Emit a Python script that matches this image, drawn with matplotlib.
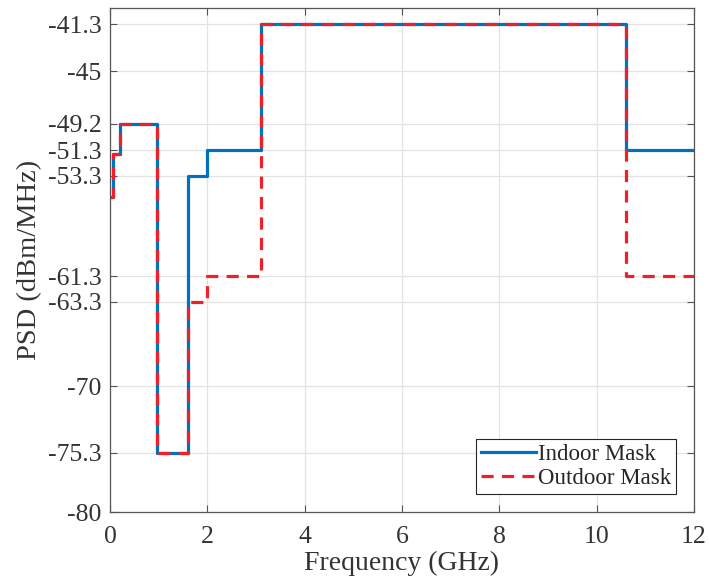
import matplotlib.pyplot as plt

## FCC emission masks (GHz, dBm/MHz), drawn as post-steps
freq_in = [0, 0.06, 0.2, 0.96, 1.61, 1.99, 3.1, 10.6, 12]
psd_in = [-55.0, -51.6, -49.2, -75.3, -53.3, -51.3, -41.3, -51.3, -51.3]

freq_out = [0, 0.06, 0.2, 0.96, 1.61, 1.99, 3.1, 10.6, 12]
psd_out = [-55.0, -51.6, -49.2, -75.3, -63.3, -61.3, -41.3, -61.3, -61.3]

yticks = [-80, -75.3, -70, -63.3, -61.3, -53.3, -51.3, -49.2, -45, -41.3]
ytick_labels = ["-80", "-75.3", "-70", "-63.3", "-61.3", "-53.3", "-51.3", "-49.2", "-45", "-41.3"]
xticks = [0, 2, 4, 6, 8, 10, 12]

plt.rcParams['font.family'] = ['Liberation Serif', 'DejaVu Serif']

fig = plt.figure(figsize=(7.09, 5.88), dpi=100)
ax = fig.add_axes([110/709, 76/588, 584/709, 504/588])

ax.step(freq_in, psd_in, where='post', color='#0072BD', lw=2.3, label='Indoor Mask')
ax.step(freq_out, psd_out, where='post', color='#F0202A', lw=2.3,
        dashes=(3.8, 2.6), label='Outdoor Mask')

ax.set_xlim(0, 12)
ax.set_ylim(-80, -40)
ax.set_xticks(xticks)
ax.set_yticks(yticks)
ax.set_yticklabels(ytick_labels)
ax.grid(True, color='#E3E3E3', lw=0.9)
ax.set_axisbelow(True)

ax.tick_params(direction='in', length=5, color='#555555', labelsize=18.5,
               labelcolor='#333333')
ax.tick_params(axis='y', pad=6)
ax.tick_params(axis='x', pad=10)
ax.tick_params(top=True, right=True)
for s in ax.spines.values():
    s.set_color('#555555')
    s.set_linewidth(0.9)

ax.set_xlabel('Frequency (GHz)', fontsize=20, color='#333333', labelpad=2)
ax.set_ylabel('PSD (dBm/MHz)', fontsize=20.5, color='#333333', labelpad=4)

leg = ax.legend(loc='lower right', fontsize=16.5, fancybox=False, framealpha=1,
                edgecolor='#262626', handlelength=2.4, handletextpad=0.1,
                borderpad=0.2, labelspacing=0.15, borderaxespad=0.8)
leg.get_frame().set_linewidth(0.8)
for t in leg.get_texts():
    t.set_color('#262626')

fig.savefig('out.png', dpi=100)
